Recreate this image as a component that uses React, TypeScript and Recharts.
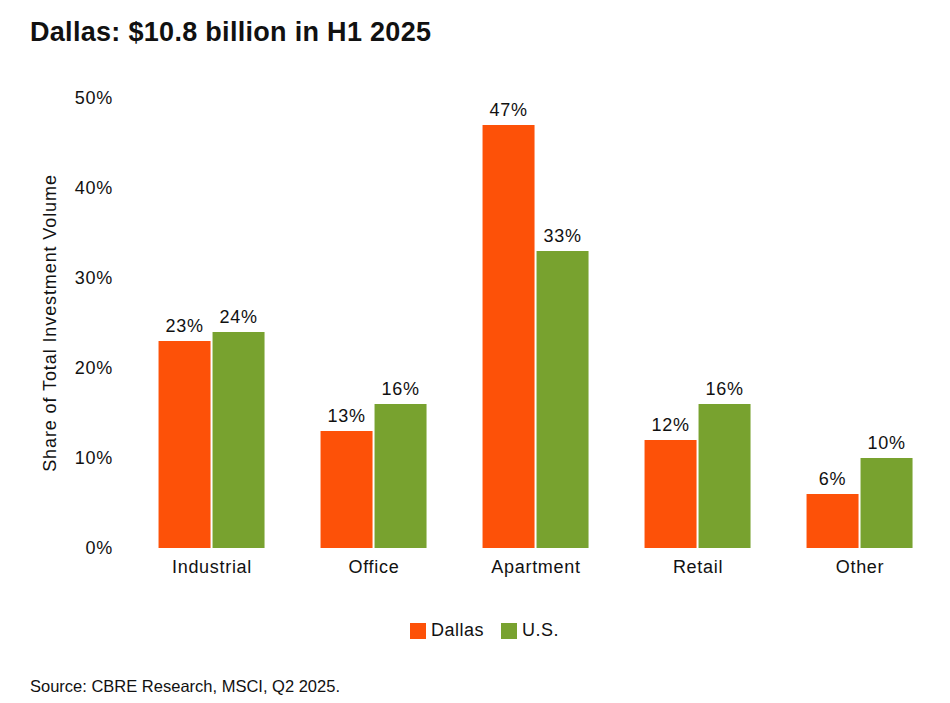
import { Bar, BarChart, LabelList, XAxis, YAxis } from 'recharts';

const categories = ['Industrial', 'Office', 'Apartment', 'Retail', 'Other'];
const dallasShare = [23, 13, 47, 12, 6];
const usShare = [24, 16, 33, 16, 10];
const yTicks = [0, 10, 20, 30, 40, 50];

const seriesNames = { dallas: 'Dallas', us: 'U.S.' };
const colors = { dallas: '#FD5108', us: '#78A22F' };

const FONT = '"Liberation Sans", Arial, Helvetica, sans-serif';
const INK = '#111111';

const chartData = categories.map((name, i) => ({
  name,
  dallas: dallasShare[i],
  us: usShare[i],
}));

const pct = (v: unknown) => `${v}%`;

// shared text style for ticks and value labels
const textStyle = { fontSize: 18, fill: INK, fontFamily: FONT, letterSpacing: 0.7 };

export default function App() {
  return (
    <div
      style={{
        position: 'absolute',
        left: 0,
        top: 0,
        width: 950,
        height: 703,
        background: '#fff',
        fontFamily: FONT,
        color: INK,
      }}
    >
      <div
        style={{
          position: 'absolute',
          left: 30,
          top: 17,
          fontSize: 27,
          fontWeight: 700,
          letterSpacing: 0.3,
          whiteSpace: 'nowrap',
        }}
      >
        Dallas: $10.8 billion in H1 2025
      </div>

      <BarChart
        width={950}
        height={703}
        data={chartData}
        margin={{ top: 98, right: 9, bottom: 125, left: 0 }}
        barCategoryGap="17%"
        barGap={2}
        style={{ position: 'absolute', left: 0, top: 0 }}
      >
        <XAxis
          dataKey="name"
          axisLine={false}
          tickLine={false}
          height={30}
          tickMargin={6}
          tick={textStyle}
        />
        <YAxis
          width={131}
          domain={[0, 50]}
          ticks={yTicks}
          axisLine={false}
          tickLine={false}
          tickMargin={12}
          tickFormatter={pct}
          tick={textStyle}
          label={{
            value: 'Share of Total Investment Volume',
            angle: -90,
            position: 'insideLeft',
            offset: 50,
            style: { ...textStyle, letterSpacing: 0.9, textAnchor: 'middle' },
          }}
        />
        <Bar dataKey="dallas" name={seriesNames.dallas} fill={colors.dallas} isAnimationActive={false}>
          <LabelList dataKey="dallas" position="top" offset={9} formatter={pct} style={textStyle} />
        </Bar>
        <Bar dataKey="us" name={seriesNames.us} fill={colors.us} isAnimationActive={false}>
          <LabelList dataKey="us" position="top" offset={9} formatter={pct} style={textStyle} />
        </Bar>
      </BarChart>

      <div
        style={{
          position: 'absolute',
          left: 410,
          top: 620,
          display: 'flex',
          gap: 17,
          fontSize: 18,
          letterSpacing: 0.5,
          lineHeight: '21px',
        }}
      >
        {(['dallas', 'us'] as const).map((key) => (
          <div key={key} style={{ display: 'flex', alignItems: 'center', gap: 5 }}>
            <span style={{ width: 16, height: 16, background: colors[key], display: 'inline-block' }} />
            <span>{seriesNames[key]}</span>
          </div>
        ))}
      </div>

      <div style={{ position: 'absolute', left: 30, top: 677, fontSize: 16.5, whiteSpace: 'nowrap' }}>
        Source: CBRE Research, MSCI, Q2 2025.
      </div>
    </div>
  );
}
